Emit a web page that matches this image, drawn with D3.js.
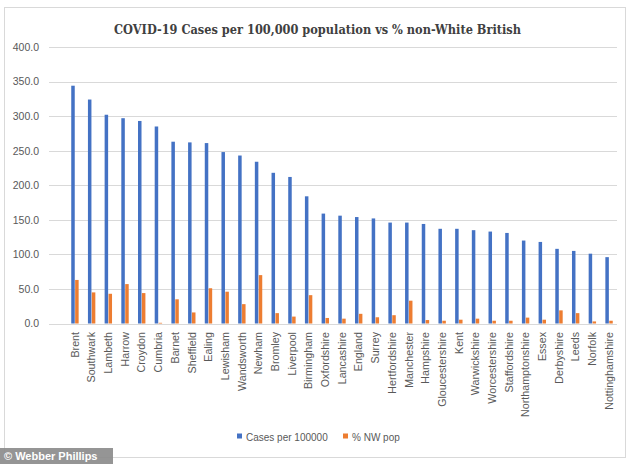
<!DOCTYPE html>
<html>
<head>
<meta charset="utf-8">
<script src="https://cdn.jsdelivr.net/npm/d3@7/dist/d3.min.js"></script>
<style>
  html, body { margin: 0; padding: 0; background: #fff; }
  svg { display: block; }
</style>
</head>
<body>
<svg id="chart" width="634" height="464"></svg>
<script>
const categories = ["Brent","Southwark","Lambeth","Harrow","Croydon","Cumbria","Barnet","Sheffield","Ealing","Lewisham","Wandsworth","Newham","Bromley","Liverpool","Birmingham","Oxfordshire","Lancashire","England","Surrey","Hertfordshire","Manchester","Hampshire","Gloucestershire","Kent","Warwickshire","Worcestershire","Staffordshire","Northamptonshire","Essex","Derbyshire","Leeds","Norfolk","Nottinghamshire"];
const casesPer100000 = [344,324,302,297,293,285,263,262,261,248,243,234,218,212,184,159,156,154,152,146,146,144,137,137,135,133,131,120,118,108,105,101,96];
const nwPop = [63,45,43,57,44,1,35,16,51,46,28,70,15,10,41,8,7,14,9,12,33,5,4,5.5,7,4,4,8.5,5.5,19,15,3,4];
const seriesNames = ["Cases per 100000", "% NW pop"];
const yTicks = [0,50,100,150,200,250,300,350,400];
const title = "COVID-19 Cases per 100,000 population vs % non-White British";

const colors = ["#4472C4", "#ED7D31"];
const svg = d3.select("#chart");

// outer chart border
svg.append("rect").attr("x", 4.5).attr("y", 7.5).attr("width", 621).attr("height", 450)
  .attr("fill", "#fff").attr("stroke", "#D9D9D9").attr("stroke-width", 1);

const gridLeft = 49, gridRight = 617;
const y = d3.scaleLinear().domain([0, 400]).range([323.5, 47]);
const x = d3.scaleBand().domain(categories).range([66.6, 617.4]).padding(0);
const xs = d3.scaleBand().domain(seriesNames)
  .range([x.step()/2 - 4, x.step()/2 + 4]).padding(0);

// gridlines
svg.append("g").selectAll("line").data(yTicks).join("line")
  .attr("x1", gridLeft).attr("x2", gridRight)
  .attr("y1", d => Math.round(y(d)) + 0.5).attr("y2", d => Math.round(y(d)) + 0.5)
  .attr("stroke", "#D9D9D9").attr("stroke-width", 1);

// y axis labels
const yAxis = d3.axisLeft(y).tickValues(yTicks).tickFormat(d3.format(".1f")).tickSize(0).tickPadding(0);
const gy = svg.append("g").attr("transform", "translate(39,0)").call(yAxis);
gy.select(".domain").remove();
gy.selectAll("text").attr("fill", "#595959").attr("font-family", "Liberation Sans, Arial, sans-serif").attr("font-size", "10.5px");

// bars
const data = categories.map((c, i) => ({c, vals: [casesPer100000[i], nwPop[i]]}));
const groups = svg.append("g").selectAll("g").data(data).join("g")
  .attr("transform", d => `translate(${x(d.c)},0)`);
groups.selectAll("rect").data(d => d.vals.map((v, j) => ({k: seriesNames[j], v, j}))).join("rect")
  .attr("x", d => xs(d.k) + (d.j === 0 ? 0.3 : 0.2))
  .attr("width", xs.bandwidth() - 0.5)
  .attr("y", d => y(d.v))
  .attr("height", d => y(0) - y(d.v))
  .attr("fill", d => colors[d.j]);

// x axis labels
const xAxis = d3.axisBottom(x).tickSize(0).tickPadding(0);
const gx = svg.append("g").attr("transform", "translate(0,332)").call(xAxis);
gx.select(".domain").remove();
gx.selectAll("text")
  .attr("fill", "#595959").attr("font-family", "Liberation Sans, Arial, sans-serif").attr("font-size", "10.7px")
  .attr("transform", "rotate(-90)").attr("text-anchor", "end")
  .attr("x", 0).attr("y", 0).attr("dx", 0).attr("dy", "0.35em");

// title
svg.append("text").attr("x", 317.5).attr("y", 34).attr("text-anchor", "middle")
  .attr("font-family", "DejaVu Serif, serif").attr("font-weight", "bold").attr("font-size", "12.5px")
  .attr("fill", "#404040").attr("textLength", 407).attr("lengthAdjust", "spacingAndGlyphs")
  .text(title);

// legend
const legend = svg.append("g").attr("transform", "translate(0,437)");
const legX = [237, 343];
seriesNames.forEach((s, i) => {
  legend.append("rect").attr("x", legX[i]).attr("y", -3.5).attr("width", 5).attr("height", 5).attr("fill", colors[i]);
  legend.append("text").attr("x", legX[i] + 9).attr("y", 0).attr("dy", "0.35em")
    .attr("font-family", "Liberation Sans, Arial, sans-serif").attr("font-size", "10px").attr("fill", "#595959")
    .text(s);
});

// watermark
svg.append("rect").attr("x", 0).attr("y", 448).attr("width", 113).attr("height", 16).attr("fill", "#8a8a8a").attr("opacity", 0.9);
svg.append("text").attr("x", 4).attr("y", 456).attr("dy", "0.35em")
  .attr("font-family", "Liberation Sans, Arial, sans-serif").attr("font-weight", "bold").attr("font-size", "11px")
  .attr("fill", "#fff").text("© Webber Phillips");
</script>
</body>
</html>
